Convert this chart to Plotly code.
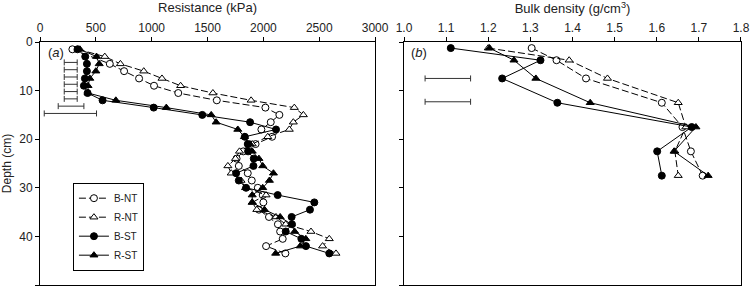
import plotly.graph_objects as go

# ---------------- Panel (a): penetration resistance ----------------
depth_a = [1.5, 3, 4.5, 6, 7.5, 9, 10.5, 12, 13.5, 15, 16.5, 18, 19.5, 21, 22.5,
           24, 25.5, 27, 28.5, 30, 31.5, 33, 34.5, 36, 37.5, 39, 40.5, 42, 43.5]
depth_bnt = [1.5, 4.5, 6, 7.5, 9, 10.5, 12, 13.5, 15, 16.5, 18, 19.5, 21, 22.5,
             24, 25.5, 27, 28.5, 30, 31.5, 33, 34.5, 36, 37.5, 39, 40.5, 42, 43.5]
res_bnt = [290, 625, 753, 887, 1021, 1238, 1583, 2018, 2143, 2066, 1982, 2078, 1930, 1820,
           1760, 1780, 1860, 1896, 1950, 1994, 2000, 1960, 2050, 2130, 2150, 2173, 2024, 2197]
res_rnt = [340, 580, 720, 929, 1092, 1259, 1548, 1890, 2277, 2358, 2268, 2232, 2039, 1900, 1786,
           1750, 1682, 1712, 1800, 1840, 2024, 1900, 1941, 2113, 2200, 2426, 2590, 2530, 2650]
res_bst = [336, 405, 420, 420, 402, 393, 426, 560, 1018, 1453, 1881, 2113, 1834, 1860, 1863,
           1914, 1911, 1756, 1780, 1845, 2128, 2456, 2417, 2253, 2256, 2200, 2340, 2381, 2590]
res_rst = [357, 506, 530, 500, 446, 430, 430, 679, 1131, 1533, 1577, 1771, 1830, 1880, 1900,
           1960, 1994, 2090, 2054, 1994, 1900, 1900, 2010, 2150, 2250, 2280, 2380, 2330, 2110]

# LSD bars, panel (a)
lsd_a_depth = [4.2, 5.7, 7.2, 8.7, 10.2, 11.7, 13.2, 14.7]
lsd_a_center = [275, 275, 275, 275, 275, 275, 278, 272]
lsd_a_half = [58, 58, 58, 58, 58, 58, 115, 234]

# ---------------- Panel (b): bulk density ----------------
depth_b = [1.25, 3.75, 7.5, 12.5, 17.5, 22.5, 27.5]
bd_bnt = [1.303, 1.362, 1.432, 1.612, 1.661, 1.681, 1.709]
bd_rnt = [1.200, 1.392, 1.483, 1.651, 1.669, 1.643, 1.651]
bd_bst = [1.111, 1.324, 1.233, 1.364, 1.683, 1.601, 1.612]
bd_rst = [1.203, 1.261, 1.313, 1.442, 1.693, 1.641, 1.722]

lsd_b_depth = [7.5, 12.3]
lsd_b_center = [1.104, 1.104]
lsd_b_half = [0.054, 0.054]

series = [
    ("B-NT", "circle", "white", "7px,3px"),
    ("R-NT", "triangle-up", "white", "7px,3px"),
    ("B-ST", "circle", "black", "solid"),
    ("R-ST", "triangle-up", "black", "solid"),
]

FONT = "Arial, Liberation Sans, sans-serif"
fig = go.Figure()

a_data = [(depth_bnt, res_bnt), (depth_a, res_rnt), (depth_a, res_bst), (depth_a, res_rst)]
b_data = [bd_bnt, bd_rnt, bd_bst, bd_rst]

for (name, sym, fill, dash), (d, v) in zip(series, a_data):
    fig.add_trace(go.Scatter(
        x=v, y=d, mode="lines+markers", name=name,
        line=dict(color="black", width=1, dash=dash),
        marker=dict(symbol=sym, size=7, color=fill, line=dict(color="black", width=1)),
        xaxis="x", yaxis="y", showlegend=True))

for (name, sym, fill, dash), v in zip(series, b_data):
    fig.add_trace(go.Scatter(
        x=v, y=depth_b, mode="lines+markers", name=name,
        line=dict(color="black", width=1, dash=dash),
        marker=dict(symbol=sym, size=7, color=fill, line=dict(color="black", width=1)),
        xaxis="x2", yaxis="y2", showlegend=False))

fig.add_trace(go.Scatter(
    x=lsd_a_center, y=lsd_a_depth, mode="markers", marker=dict(size=1, color="rgba(0,0,0,0)"),
    error_x=dict(type="data", array=lsd_a_half, color="#333", thickness=1, width=3),
    xaxis="x", yaxis="y", showlegend=False, hoverinfo="skip"))
fig.add_trace(go.Scatter(
    x=lsd_b_center, y=lsd_b_depth, mode="markers", marker=dict(size=1, color="rgba(0,0,0,0)"),
    error_x=dict(type="data", array=lsd_b_half, color="#333", thickness=1, width=3),
    xaxis="x2", yaxis="y2", showlegend=False, hoverinfo="skip"))

axis_common = dict(showline=True, linecolor="black", linewidth=1, mirror=True, automargin=False,
                   ticks="outside", ticklen=4, tickcolor="black", showgrid=False,
                   zeroline=False, tickfont=dict(size=12, color="#222", family=FONT))

fig.update_layout(
    width=750, height=289,
    margin=dict(l=40, r=9, t=42, b=4),
    paper_bgcolor="white", plot_bgcolor="white",
    font=dict(family=FONT, color="#222"),
    xaxis=dict(domain=[0, 0.478], range=[0, 3000], side="top", tickvals=[0, 500, 1000, 1500, 2000, 2500, 3000],
               title=dict(text="Resistance (kPa)", font=dict(size=13, family=FONT, color="#222"), standoff=6),
               anchor="y", **axis_common),
    yaxis=dict(domain=[0, 1], range=[50, 0], tickvals=[0, 10, 20, 30, 40, 50],
               title=dict(text="Depth (cm)", font=dict(size=12, family=FONT, color="#222"), standoff=6),
               anchor="x", **axis_common),
    xaxis2=dict(domain=[0.5193, 1], range=[1.0, 1.8], side="top",
                tickvals=[1.0, 1.1, 1.2, 1.3, 1.4, 1.5, 1.6, 1.7, 1.8], ticktext=["1.0", "1.1", "1.2", "1.3", "1.4", "1.5", "1.6", "1.7", "1.8"],
                title=dict(text="Bulk density (g/cm<sup>3</sup>)", font=dict(size=13, family=FONT, color="#222"), standoff=6),
                anchor="y2", **axis_common),
    yaxis2=dict(domain=[0, 1], range=[50, 0], tickvals=[0, 10, 20, 30, 40, 50], showticklabels=False,
                anchor="x2", **axis_common),
    legend=dict(x=0.047, y=0.24, xanchor="left", yanchor="middle", bgcolor="white",
                bordercolor="black", borderwidth=1, font=dict(size=10, family=FONT, color="#222"),
                itemwidth=30, tracegroupgap=0),
    annotations=[
        dict(text="(<i>a</i>)", xref="paper", yref="paper", x=0.008, y=0.955, xanchor="left", yanchor="middle",
             showarrow=False, font=dict(size=13, family=FONT, color="#222")),
        dict(text="(<i>b</i>)", xref="paper", yref="paper", x=0.526, y=0.955, xanchor="left", yanchor="middle",
             showarrow=False, font=dict(size=13, family=FONT, color="#222")),
    ],
)

fig.write_html("out.html", config={"displayModeBar": False},
               post_script="document.body.style.margin='0px';document.body.style.padding='0px';")
